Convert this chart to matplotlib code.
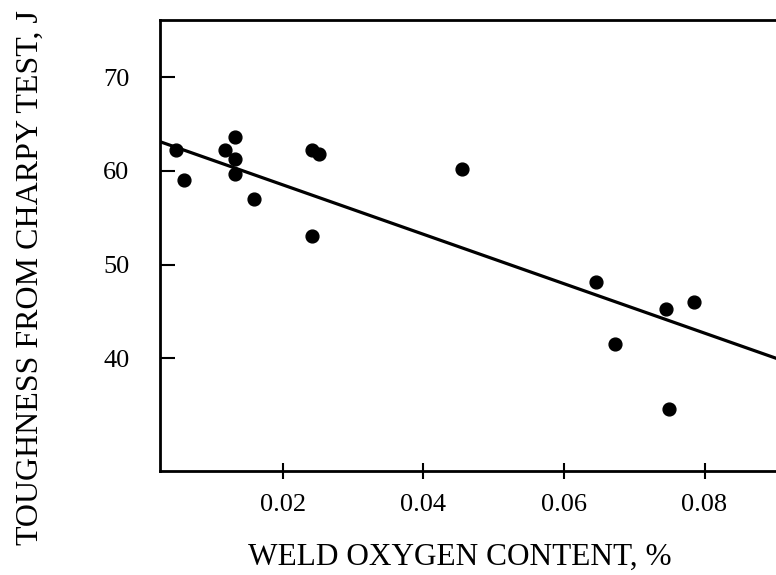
import matplotlib
matplotlib.use("Agg")
import matplotlib.pyplot as plt
import numpy as np

# weld oxygen content (%) vs Charpy toughness (J)
oxygen = [0.0048, 0.0060, 0.0118, 0.0132, 0.0132, 0.0132, 0.0159, 0.0242,
          0.0252, 0.0242, 0.0455, 0.0646, 0.0672, 0.0745, 0.0785, 0.0750]
toughness = [62.2, 59.0, 62.2, 63.6, 61.3, 59.7, 57.0, 62.2,
             61.8, 53.1, 60.2, 48.1, 41.5, 45.3, 46.0, 34.6]

# fitted trend line
fit_intercept = 63.8
fit_slope = -264.0

x_ticks = [0.02, 0.04, 0.06, 0.08]
y_ticks = [40, 50, 60, 70]

plt.rcParams['font.family'] = ['Liberation Serif', 'DejaVu Serif']

fig = plt.figure(figsize=(7.76, 5.75), dpi=100)
# axes runs past the right edge of the figure, like the original
ax = fig.add_axes([160/776, 1 - 471/575, (810 - 160)/776, (471 - 20)/575])

ax.scatter(oxygen, toughness, s=85, color='black', zorder=3)

xl = np.array([0.0, 0.1])
ax.plot(xl, fit_intercept + fit_slope*xl, color='black', lw=2.3)

ax.set_xlim(0.00253, 0.095)
ax.set_ylim(27.95, 76.13)
ax.set_xticks(x_ticks)
ax.set_xticklabels(['0.02', '0.04', '0.06', '0.08'])
ax.set_yticks(y_ticks)

for s in ['left', 'bottom', 'top']:
    ax.spines[s].set_linewidth(2)
ax.spines['right'].set_visible(False)

ax.tick_params(axis='x', direction='inout', length=11.5, width=1.5,
               labelsize=19, pad=11)
ax.tick_params(axis='y', direction='in', length=10.5, width=1.5,
               labelsize=19, pad=22)

ax.set_xlabel('WELD OXYGEN CONTENT, %', fontsize=22.5)
ax.set_ylabel('TOUGHNESS FROM CHARPY TEST, J', fontsize=23)
ax.xaxis.set_label_coords(0.462, -0.16)
ax.yaxis.set_label_coords(-0.177, 0.429)

fig.savefig('out.png', dpi=100)
